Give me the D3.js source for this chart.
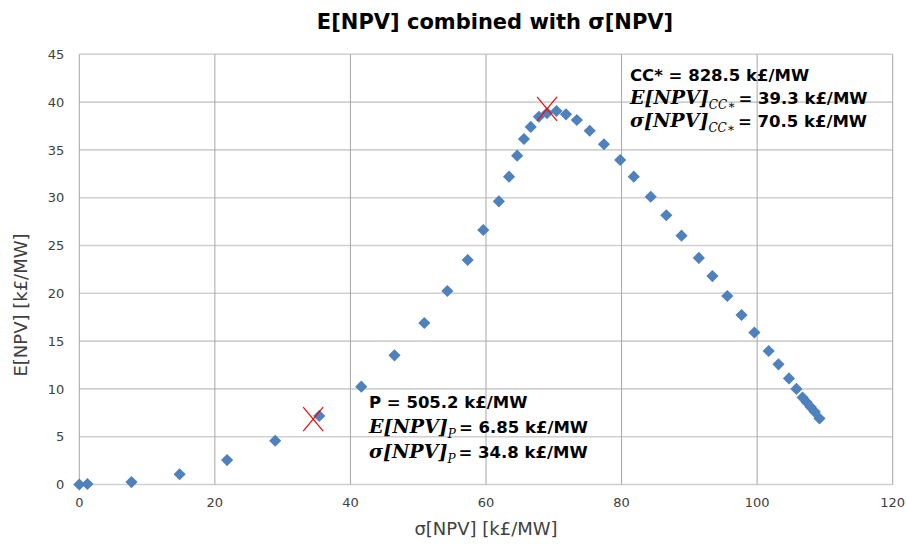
<!DOCTYPE html>
<meta charset="utf-8">
<script src="https://d3js.org/d3.v7.min.js"></script>
<style>body { margin: 0; background: #fff; }</style>
<div id="chart"></div>
<script>
// sigma[NPV] (x) and E[NPV] (y) in k£/MW
var sigma = [0, 1.2, 7.7, 14.8, 21.8, 28.9, 35.4, 41.6, 46.5, 50.9, 54.3, 57.3, 59.6, 61.9,
  63.4, 64.6, 65.6, 66.6, 67.8, 69.0, 70.4, 71.8, 73.4, 75.3, 77.4, 79.8, 81.8, 84.3, 86.6,
  88.85, 91.4, 93.4, 95.6, 97.7, 99.6, 101.7, 103.15, 104.7, 105.8, 106.7, 107.3, 107.9, 108.5, 109.2];
var enpv = [0, 0.05, 0.25, 1.07, 2.55, 4.58, 7.17, 10.23, 13.51, 16.89, 20.24, 23.48, 26.62, 29.62,
  32.2, 34.4, 36.14, 37.4, 38.47, 38.85, 39.07, 38.72, 38.13, 37.0, 35.59, 33.94, 32.2, 30.1, 28.16,
  26.03, 23.7, 21.8, 19.72, 17.73, 15.9, 13.96, 12.57, 11.1, 10.0, 9.1, 8.6, 8.1, 7.6, 6.9];

// the two highlighted points (red crosses)
var crossSigma = [34.5, 69.0];
var crossE = [6.85, 39.3];

var xTicks = [0, 20, 40, 60, 80, 100, 120];
var yTicks = [0, 5, 10, 15, 20, 25, 30, 35, 40, 45];

var W = 906, H = 544;
var margin = {top: 54.3, right: 13.3, bottom: 59.5, left: 79.3},
    width = W - margin.left - margin.right,
    height = H - margin.top - margin.bottom;

var sans = "'DejaVu Sans', 'Open Sans', sans-serif";
var serif = "'DejaVu Serif', 'Liberation Serif', serif";

var svg = d3.select("#chart")
  .append("svg")
    .attr("width", W)
    .attr("height", H)
    .style("font-family", sans);

var g = svg.append("g")
    .attr("transform", "translate(" + margin.left + "," + margin.top + ")");

var x = d3.scaleLinear().domain([0, 120]).range([0, width]);
var y = d3.scaleLinear().domain([0, 45]).range([height, 0]);

// horizontal grid
g.selectAll(".hgrid")
  .data(yTicks)
  .enter().append("line")
    .attr("x1", 0).attr("x2", width)
    .attr("y1", function(d) { return y(d); })
    .attr("y2", function(d) { return y(d); })
    .attr("stroke", "#d0d0d0")
    .attr("stroke-width", 1.6);

// vertical grid
g.selectAll(".vgrid")
  .data(xTicks)
  .enter().append("line")
    .attr("y1", 0).attr("y2", height)
    .attr("x1", function(d) { return x(d); })
    .attr("x2", function(d) { return x(d); })
    .attr("stroke", "#a6a6a6")
    .attr("stroke-width", 1);

// tick labels
g.selectAll(".xlab")
  .data(xTicks)
  .enter().append("text")
    .attr("x", function(d) { return x(d); })
    .attr("y", height + 23)
    .attr("text-anchor", "middle")
    .style("font-size", "13px")
    .style("fill", "#404040")
    .text(function(d) { return d; });

g.selectAll(".ylab")
  .data(yTicks)
  .enter().append("text")
    .attr("x", -15)
    .attr("y", function(d) { return y(d); })
    .attr("dy", "0.36em")
    .attr("text-anchor", "end")
    .style("font-size", "13px")
    .style("fill", "#404040")
    .text(function(d) { return d; });

// diamonds
var diamond = d3.symbol().type(d3.symbolSquare).size(74);
g.selectAll(".pt")
  .data(sigma)
  .enter().append("path")
    .attr("d", diamond)
    .attr("transform", function(d, i) {
      return "translate(" + x(d) + "," + y(enpv[i]) + ") rotate(45)";
    })
    .attr("fill", "#4f81bd");

// red crosses
var cw = 10, ch = 12;
crossSigma.forEach(function(s, i) {
  var cx = x(s), cy = y(crossE[i]);
  g.append("path")
    .attr("d", "M" + (cx - cw) + "," + (cy - ch) + "L" + (cx + cw) + "," + (cy + ch) +
               "M" + (cx + cw) + "," + (cy - ch) + "L" + (cx - cw) + "," + (cy + ch))
    .attr("stroke", "#ff0000")
    .attr("stroke-width", 1.2)
    .attr("fill", "none");
});

// title and axis labels
svg.append("text")
    .attr("x", 495).attr("y", 28.5)
    .attr("text-anchor", "middle")
    .style("font-size", "21px")
    .style("font-weight", "bold")
    .style("fill", "#000")
    .text("E[NPV] combined with σ[NPV]");

svg.append("text")
    .attr("x", 486).attr("y", 535)
    .attr("text-anchor", "middle")
    .style("font-size", "18px")
    .style("fill", "#404040")
    .text("σ[NPV] [k£/MW]");

svg.append("text")
    .attr("transform", "translate(26.5,305) rotate(-90)")
    .attr("text-anchor", "middle")
    .style("font-size", "18px")
    .style("fill", "#404040")
    .text("E[NPV] [k£/MW]");

// annotations
function note(x0, y0, step, head, sub, vals) {
  svg.append("text")
      .attr("x", x0).attr("y", y0)
      .style("font-size", "16.5px").style("font-weight", "bold").style("fill", "#000")
      .text(head);
  ["E[NPV]", "σ[NPV]"].forEach(function(lab, i) {
    var t = svg.append("text")
        .attr("x", x0).attr("y", y0 + step * (i + 1))
        .style("fill", "#000");
    t.append("tspan")
        .style("font-family", serif).style("font-size", "19px")
        .style("font-weight", "bold").style("font-style", "italic")
        .text(lab);
    t.append("tspan")
        .attr("dy", 5)
        .style("font-family", serif).style("font-size", "12px")
        .style("font-style", "italic")
        .text(sub);
    t.append("tspan")
        .attr("dy", -5).attr("dx", 3)
        .style("font-size", "16.5px").style("font-weight", "bold")
        .text(vals[i]);
  });
}

note(630, 81, 23, "CC* = 828.5 k£/MW", "CC∗", ["= 39.3 k£/MW", "= 70.5 k£/MW"]);
note(369, 408, 25, "P = 505.2 k£/MW", "P", ["= 6.85 k£/MW", "= 34.8 k£/MW"]);
</script>
